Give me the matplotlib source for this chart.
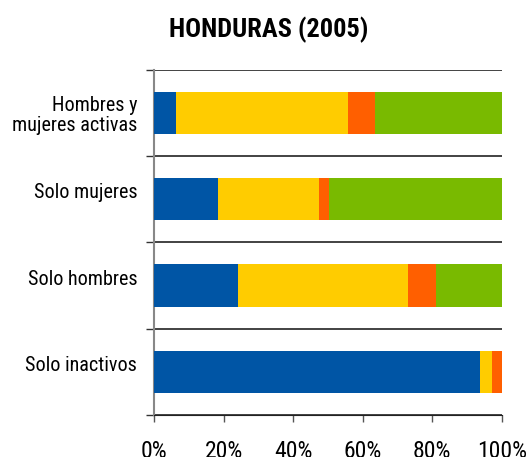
import numpy as np
import matplotlib.pyplot as plt
import matplotlib.transforms as mtransforms
from matplotlib.ticker import FixedLocator, PercentFormatter

plt.rcParams['font.family'] = ['Roboto Condensed', 'Archivo Narrow', 'DejaVu Sans']

# Share of households by category, Honduras 2005
categories = ['Hombres y\nmujeres activas', 'Solo mujeres', 'Solo hombres', 'Solo inactivos']
blue = [6.3, 18.4, 24.1, 93.6]
yellow = [49.4, 29.0, 48.9, 3.7]
orange = [7.9, 3.0, 8.0, 2.7]
green = [36.4, 49.6, 19.0, 0.0]

series = [blue, yellow, orange, green]
colors = ['#0055A5', '#FFCC00', '#FF5F00', '#79BA00']

fig = plt.figure(figsize=(5.31, 4.57), dpi=100)
ax = fig.add_axes([0.290, 0.092, 0.655, 0.755])

y = np.arange(len(categories))
left = np.zeros(len(categories))
for vals, col in zip(series, colors):
    ax.barh(y, vals, left=left, height=0.49, color=col, zorder=3)
    left += np.array(vals)

ax.set_xlim(0, 100)
ax.set_ylim(len(categories) - 0.5, -0.5)

# category labels in the middle, separators on the boundaries
ax.set_yticks(y)
ax.set_yticklabels(categories, fontsize=14.5, linespacing=1.05)
ax.tick_params(axis='y', which='major', length=0, pad=12)
ax.yaxis.set_minor_locator(FixedLocator(np.arange(-0.5, len(categories), 1)))
ax.tick_params(axis='y', which='minor', length=6, width=1, color='#333333')
ax.grid(axis='y', which='minor', color='#222222', linewidth=1.2, zorder=1)

# one-line labels sit a little above the bar centre
lift = mtransforms.ScaledTranslation(0, 6 / 72, fig.dpi_scale_trans)
for lbl in ax.get_yticklabels():
    if '\n' not in lbl.get_text():
        lbl.set_transform(lbl.get_transform() + lift)

ax.set_xticks(np.arange(0, 101, 20))
ax.xaxis.set_major_formatter(PercentFormatter(decimals=0))
ax.tick_params(axis='x', length=5, width=1, color='#555555', labelsize=17, pad=13)

for side in ['top', 'right']:
    ax.spines[side].set_visible(False)
ax.spines['left'].set_color('#888888')
ax.spines['left'].set_linewidth(1.5)
ax.spines['bottom'].set_color('#222222')

fig.text(0.506, 0.935, 'HONDURAS (2005)', ha='center', va='center',
         fontsize=19, fontweight='bold')

plt.savefig('out.png', dpi=100)
